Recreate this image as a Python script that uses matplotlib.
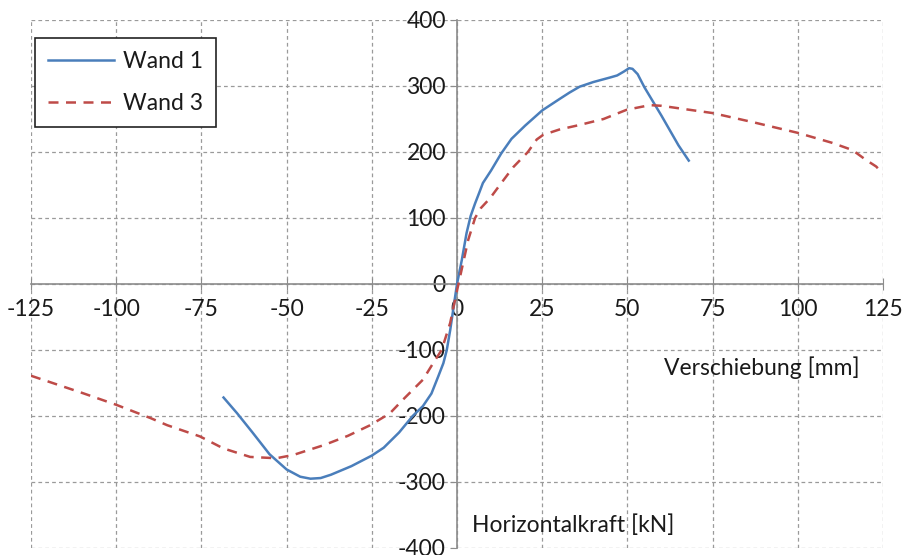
import matplotlib
matplotlib.use("Agg")
import matplotlib.pyplot as plt
import numpy as np

plt.rcParams['font.family'] = ['Lato', 'DejaVu Sans']
plt.rcParams['axes.unicode_minus'] = False

# Wand 1 (blue, solid)
w1_x = [-68.5, -64.5, -60, -55, -50, -46, -43, -40, -37, -31, -25, -21.5, -17, -13, -10, -7.5,
        -5.5, -4, -3, -2, -1, 0, 1.4, 2.8, 4, 5.3, 6.5, 7.6, 10, 13, 16, 20, 25, 30, 33, 36, 40, 45,
        47, 49, 50.5, 51.5, 53, 55, 60, 65, 68]
w1_y = [-172, -196, -225, -258, -281, -292, -295, -294, -289, -276, -260, -248, -225, -200, -185, -166,
        -140, -120, -100, -70, -35, 0, 36, 77, 103, 122, 138, 153, 172, 198, 220, 240, 263, 280, 290, 299, 306, 313,
        316, 322, 327, 326, 318, 298, 255, 210, 187]

# Wand 3 (red, dashed)
w3_x = [-125, -110, -100, -90, -85, -75.4, -68.6, -60.7, -53, -48, -39, -32, -25.5, -19.7, -16, -10,
        -7, -4.5, -2, 0, 1.5, 3.3, 5.3, 7, 9.7, 13, 16.5, 20.8, 23.4, 25.3, 30, 36, 43, 49.8, 56.6,
        60, 65.4, 75, 87, 100, 110, 116, 120, 123, 125]
w3_y = [-139, -165, -183, -203, -214, -231, -249, -262, -264, -259, -244, -230, -214, -196, -176, -145,
        -120, -100, -59, -10, 25, 67, 100, 115, 130, 153, 177, 200, 219, 226, 234, 241, 250, 264, 271,
        270, 266, 259, 245, 229, 214, 203, 188, 178, 167]

xticks = [-125, -100, -75, -50, -25, 0, 25, 50, 75, 100, 125]
yticks = [-400, -300, -200, -100, 0, 100, 200, 300, 400]

FS = 16.5

fig = plt.figure(figsize=(9.06, 5.55), dpi=100)
ax = fig.add_axes([31/906, 1-548/555, (883-31)/906, (548-20)/555])

ax.plot(w1_x, w1_y, color='#4A7EBB', lw=1.8, label='Wand 1', zorder=3)
ax.plot(w3_x, w3_y, color='#BE4B48', lw=1.8, ls=(0, (4, 3)), label='Wand 3', zorder=3)

ax.set_xlim(-125, 125)
ax.set_ylim(-400, 400)
ax.set_xticks(xticks)
ax.set_yticks(yticks)
ax.grid(True, color='#9a9a9a', ls=(0, (3, 2.5)), lw=0.9)
ax.set_axisbelow(True)

for s in ['top', 'right']:
    ax.spines[s].set_visible(False)
ax.spines['left'].set_position(('data', 0))
ax.spines['bottom'].set_position(('data', 0))
ax.spines['left'].set_color('#8c8c8c')
ax.spines['bottom'].set_color('#8c8c8c')
ax.spines['left'].set_linewidth(1.2)
ax.spines['bottom'].set_linewidth(1.2)

ax.tick_params(axis='x', direction='inout', length=8, color='#8c8c8c', labelsize=FS, pad=7, labelcolor='#1a1a1a')
ax.tick_params(axis='y', direction='out', length=5, color='#8c8c8c', labelsize=FS, pad=3, labelcolor='#1a1a1a')

ax.text(60.7, -127, 'Verschiebung [mm]', fontsize=FS, va='center', ha='left', color='#1a1a1a')
ax.text(4.4, -365, 'Horizontalkraft [kN]', fontsize=FS, va='center', ha='left', color='#1a1a1a')

leg = fig.legend(loc='upper left', bbox_to_anchor=(35/906, 1-38/555), bbox_transform=fig.transFigure,
                 borderaxespad=0, frameon=True, fancybox=False, edgecolor='#222222', framealpha=1,
                 fontsize=FS, handlelength=2.9, handletextpad=0.4, labelspacing=0.95, borderpad=0.55)
leg.get_frame().set_linewidth(1.2)
for t in leg.get_texts():
    t.set_color('#1a1a1a')

fig.savefig('out.png', dpi=100)
